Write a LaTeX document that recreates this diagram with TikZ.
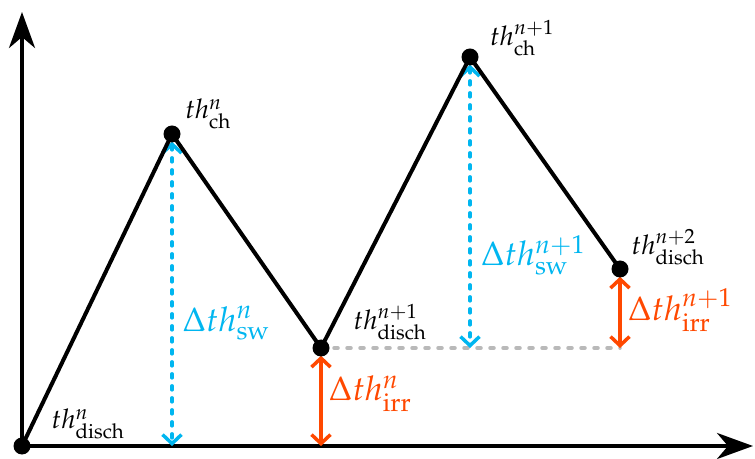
\documentclass[tikz,border=0pt]{standalone}
\usepackage{amsmath}
\usepackage{mathpazo}
\usepackage{xcolor}
\usetikzlibrary{arrows.meta, positioning}

\definecolor{swblue}{RGB}{0,182,240}
\definecolor{irrorange}{RGB}{255,72,0}
\definecolor{levelgray}{RGB}{185,185,185}

\begin{document}
\begin{tikzpicture}[x=1pt, y=1pt,
    axis/.style={line width=4pt, -{Stealth[length=36pt, width=26pt, inset=11pt]}},
    trace/.style={line width=4pt, line join=round},
    dot/.style={circle, fill=black, inner sep=0pt, minimum size=15pt},
    thlabel/.style={font=\fontsize{27}{32}\selectfont},
    dlabel/.style={font=\fontsize{34}{40}\selectfont},
    swarrow/.style={swblue, line width=3.5pt, line cap=round, dash pattern=on 4pt off 8pt,
        {Straight Barb[length=9pt, width=19pt]}-{Straight Barb[length=9pt, width=19pt]}},
    irrarrow/.style={irrorange, line width=3.5pt,
        {Straight Barb[length=9pt, width=19pt]}-{Straight Barb[length=9pt, width=19pt]}},
    level/.style={levelgray, line width=3.5pt, line cap=round, dash pattern=on 4pt off 9pt}]
    \useasboundingbox (0,0) rectangle (755,458);

    % turning points
    \node[dot] (O) at (22,12) {};
    \node[dot] (B) at (172,324) {};
    \node[dot] (C) at (321,110) {};
    \node[dot] (D) at (470,401) {};
    \node[dot] (E) at (620,189) {};

    % feet of the vertical arrows
    \coordinate (Bfoot) at (172,12);
    \coordinate (Cfoot) at (321,12);
    \coordinate (Dfoot) at (470,110);
    \coordinate (Efoot) at (620,110);
    \coordinate (ytip) at (22,446);
    \coordinate (xtip) at (753,12);

    % axes
    \draw[axis] (O.center) -- (ytip);
    \draw[axis] (O.center) -- (xtip);

    % level line
    \draw[level] (C.center) -- (Efoot);

    % swing and irreversible parts
    \draw[swarrow] (B.south) -- (Bfoot);
    \draw[swarrow] (D.south) -- (Dfoot);
    \draw[irrarrow] (C.south) -- (Cfoot);
    \draw[irrarrow] (E.south) -- (Efoot);

    % trace
    \draw[trace] (O.center) -- (B.center) -- (C.center) -- (D.center) -- (E.center);
    \foreach \p in {O, B, C, D, E}
        \fill (\p) circle (8.5pt);

    % labels
    \node[thlabel] (lblO) at (88,34) {$th^{n}_{\mathrm{disch}}$};
    \node[thlabel] (lblB) at (208,344) {$th^{n}_{\mathrm{ch}}$};
    \node[thlabel] (lblC) at (390,136) {$th^{n+1}_{\mathrm{disch}}$};
    \node[thlabel] (lblD) at (522,420) {$th^{n+1}_{\mathrm{ch}}$};
    \node[thlabel] (lblE) at (668,211) {$th^{n+2}_{\mathrm{disch}}$};

    \node[dlabel, swblue] (sw1) at (226,135) {$\Delta th^{n}_{\mathrm{sw}}$};
    \node[dlabel, swblue] (sw2) at (533,203) {$\Delta th^{n+1}_{\mathrm{sw}}$};
    \node[dlabel, irrorange] (irr1) at (370,64) {$\Delta th^{n}_{\mathrm{irr}}$};
    \node[dlabel, irrorange] (irr2) at (680,148) {$\Delta th^{n+1}_{\mathrm{irr}}$};
\end{tikzpicture}
\end{document}
